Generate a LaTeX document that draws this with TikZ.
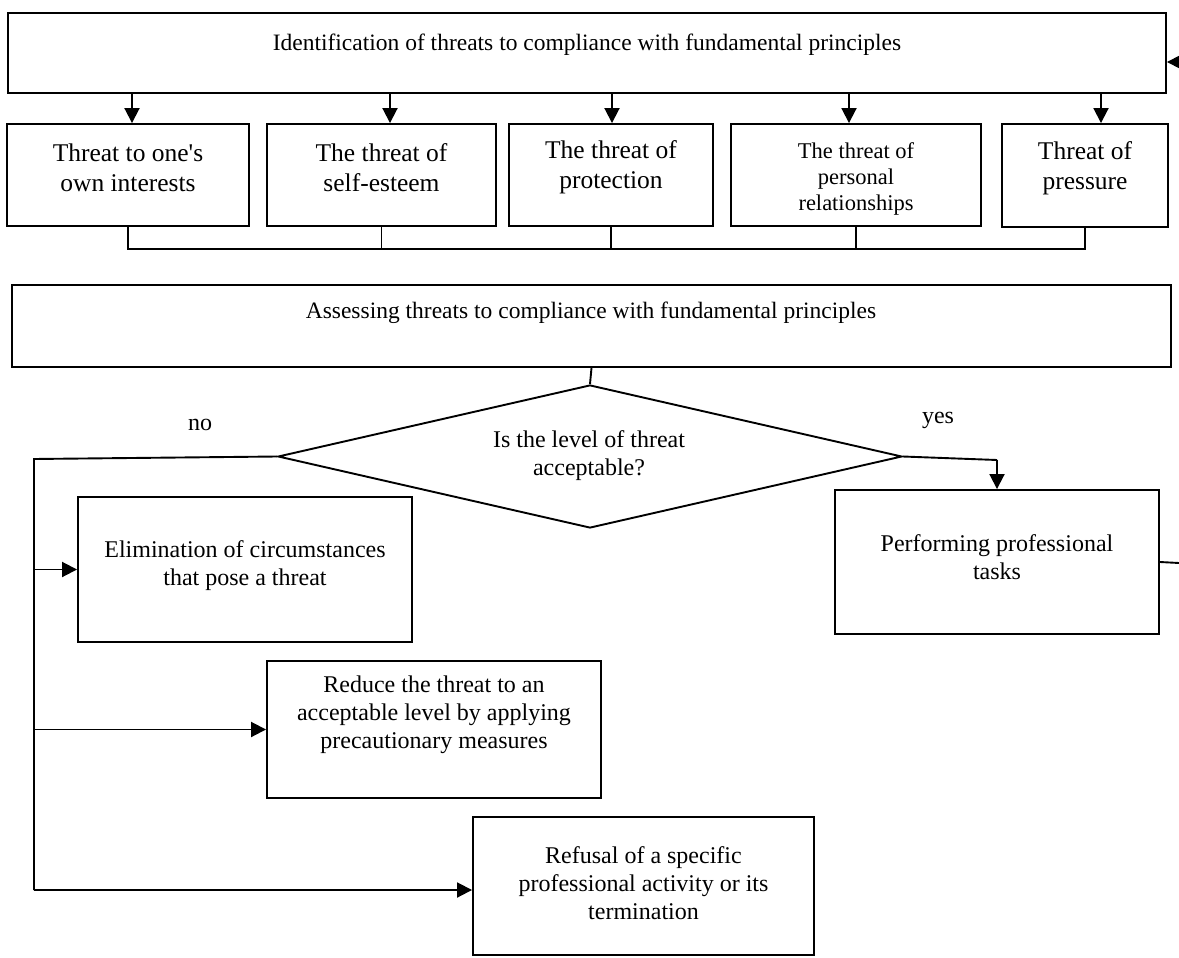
\documentclass[tikz,border=0pt]{standalone}
\usepackage{fontspec}
\setmainfont{Liberation Serif}
\usetikzlibrary{arrows.meta,shapes.geometric}
\begin{document}
\begin{tikzpicture}[x=1pt,y=-1pt,
  line width=1.9pt,
  box/.style={draw,rectangle,inner sep=0pt,line width=1.9pt},
  txt/.style={align=center,inner sep=0pt,font=\fontsize{24}{28}\selectfont},
  ttxt/.style={align=center,inner sep=0pt,font=\fontsize{25.5}{30}\selectfont},
  arr/.style={-{Triangle[length=15pt,width=15pt]}}]
\useasboundingbox (0,0) rectangle (1179,958);
% top box
\node[box,minimum width=1158pt,minimum height=80pt] (top) at (587,53) {};
\node[txt,font=\fontsize{23.5}{28}\selectfont] (topt) at (587,45) {Identification of threats to compliance with fundamental principles};
\coordinate (rin) at (1179,62);
\draw[arr] (rin) -- (rin -| top.east);
% threat boxes
\node[box,minimum width=242pt,minimum height=102pt] (b1) at (128,175) {};
\node[box,minimum width=229pt,minimum height=102pt] (b2) at (381.5,175) {};
\node[box,minimum width=204pt,minimum height=102pt] (b3) at (611,175) {};
\node[box,minimum width=250pt,minimum height=102pt] (b4) at (856,175) {};
\node[box,minimum width=166pt,minimum height=103pt] (b5) at (1085,175.5) {};
\node[ttxt] (b1t) at (128,168) {Threat to one\textquotesingle s\\own interests};
\node[ttxt] (b2t) at (381.5,168) {The threat of\\self-esteem};
\node[ttxt] (b3t) at (611,167) {The threat of\\protection};
\node[txt,font=\fontsize{22.5}{26}\selectfont] (b4t) at (856,179) {The threat of\\personal\\relationships};
\node[ttxt] (b5t) at (1085,168) {Threat of\\pressure};
\draw[arr] ([xshift=4pt]b1.north |- top.south) -- ([xshift=4pt]b1.north);
\draw[arr] ([xshift=8.5pt]b2.north |- top.south) -- ([xshift=8.5pt]b2.north);
\draw[arr] ([xshift=1pt]b3.north |- top.south) -- ([xshift=1pt]b3.north);
\draw[arr] ([xshift=-7pt]b4.north |- top.south) -- ([xshift=-7pt]b4.north);
\draw[arr] ([xshift=16pt]b5.north |- top.south) -- ([xshift=16pt]b5.north);
% bus
\coordinate (bus) at (0,249);
\draw (b1.south) |- (b5.south |- bus) -- (b5.south);
\draw (b2.south) -- (b2.south |- bus);
\draw (b3.south) -- (b3.south |- bus);
\draw (b4.south) -- (b4.south |- bus);
% assessing
\node[box,minimum width=1159pt,minimum height=82pt] (as) at (591.5,326) {};
\node[txt,font=\fontsize{23.5}{28}\selectfont] (ast) at (591,313) {Assessing threats to compliance with fundamental principles};
% decision
\node[draw,diamond,inner sep=0pt,minimum width=624pt,minimum height=143pt,line width=1.9pt] (dia) at (590,456.5) {};
\node[txt] (diat) at (589,456) {Is the level of threat\\acceptable?};
\draw (as.south) -- (dia.north);
\node[txt] (no) at (200,425) {no};
\node[txt] (yes) at (938,420) {yes};
% yes branch
\node[box,minimum width=324pt,minimum height=144pt] (perf) at (997,562) {};
\node[txt] (perft) at (997,557.5) {Performing professional\\tasks};
\coordinate (yc) at (997,460);
\draw (dia.east) -- (yc);
\draw[arr] (yc) -- (perf.north);
\coordinate (rout) at (1179,563);
\draw (perf.east) -- (rout);
% no branch
\node[box,minimum width=334pt,minimum height=145pt] (elim) at (245,569.5) {};
\node[txt] (elimt) at (245,565.5) {Elimination of circumstances\\that pose a threat};
\node[box,minimum width=334pt,minimum height=137pt] (red) at (434,729.5) {};
\node[txt] (redt) at (434,715) {Reduce the threat to an\\acceptable level by applying\\precautionary measures};
\node[box,minimum width=341pt,minimum height=138pt] (ref) at (643.5,886) {};
\node[txt] (reft) at (643.5,883.5) {Refusal of a specific\\professional activity or its\\termination};
\coordinate (nl) at (34,459);
\coordinate (nb) at (34,890);
\draw (dia.west) -- (nl) -- (nb);
\draw[arr] (nl |- elim.west) -- (elim.west);
\draw[arr] (nl |- red.west) -- (red.west);
\draw[arr] (nb) -- (nb -| ref.west);
\end{tikzpicture}
\end{document}
